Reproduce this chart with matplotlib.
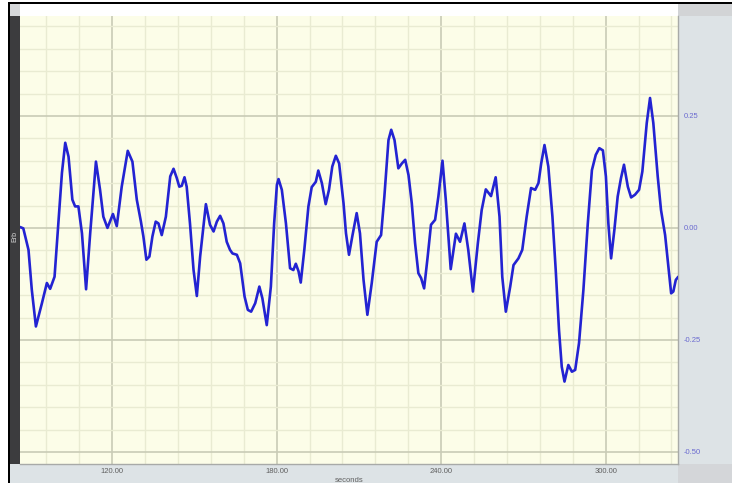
import numpy as np
import matplotlib
matplotlib.use("Agg")
import matplotlib.pyplot as plt
from matplotlib.patches import Rectangle
from matplotlib.ticker import MultipleLocator

# trace samples (time in seconds, signal value)
t = [86.4, 87.6, 89.5, 90.7, 92.2, 94.4, 96.2, 97.4, 99.0, 100.4, 101.7, 102.9,
     104.1, 105.5, 106.5, 107.7, 109.0, 110.5, 112.0, 114.1, 115.6, 116.8, 118.3,
     120.3, 121.7, 123.5, 125.7, 127.4, 129.0, 130.5, 131.4, 132.5, 133.6, 134.7,
     135.9, 136.9, 138.1, 139.6, 141.2, 142.4, 143.6, 144.5, 145.4, 146.4, 147.2,
     148.4, 149.7, 150.9, 152.1, 154.2, 155.7, 157.0, 158.2, 159.4, 160.6, 161.8,
     163.0, 163.9, 165.5, 166.7, 168.3, 169.5, 170.7, 172.2, 173.7, 174.8, 176.4,
     177.9, 179.1, 180.1, 180.7, 181.9, 183.4, 184.9, 186.1, 187.0, 188.0, 188.8,
     190.1, 191.6, 192.8, 194.3, 195.2, 196.5, 197.9, 199.1, 200.3, 201.6, 202.8,
     204.4, 205.3, 206.4, 207.6, 209.2, 210.4, 211.7, 213.1, 214.7, 216.5, 218.1,
     219.3, 220.8, 221.8, 223.0, 224.4, 225.7, 226.9, 228.1, 229.3, 230.5, 231.7,
     232.7, 233.8, 235.1, 236.3, 237.8, 239.0, 240.5, 241.7, 243.5, 245.4, 246.9,
     248.5, 249.9, 251.6, 253.4, 254.8, 256.3, 258.2, 259.9, 261.3, 262.3, 263.6,
     265.2, 266.4, 268.2, 269.6, 271.2, 272.8, 274.3, 275.5, 276.5, 277.7, 279.1,
     280.6, 281.8, 283.0, 284.0, 285.0, 286.4, 287.7, 288.9, 290.3, 291.9, 293.5,
     295.0, 296.4, 297.7, 299.0, 300.1, 301.0, 302.0, 303.2, 304.4, 305.6, 306.7,
     308.1, 309.3, 310.7, 312.2, 313.4, 315.0, 316.2, 317.4, 319.0, 320.2, 321.7,
     322.9, 323.9, 324.7, 325.6, 326.5]
v = [0.002, -0.001, -0.049, -0.138, -0.220, -0.168, -0.123, -0.136, -0.109, 0.011,
     0.123, 0.190, 0.159, 0.063, 0.048, 0.048, -0.012, -0.137, -0.012, 0.148,
     0.085, 0.025, 0.000, 0.031, 0.004, 0.092, 0.172, 0.148, 0.063, 0.014, -0.019,
     -0.071, -0.064, -0.019, 0.014, 0.010, -0.016, 0.025, 0.115, 0.132, 0.111,
     0.092, 0.094, 0.113, 0.092, 0.010, -0.094, -0.152, -0.064, 0.053, 0.007,
     -0.008, 0.014, 0.027, 0.010, -0.031, -0.049, -0.057, -0.060, -0.079, -0.153,
     -0.183, -0.187, -0.168, -0.131, -0.157, -0.217, -0.131, 0.010, 0.096, 0.109,
     0.085, 0.010, -0.090, -0.094, -0.080, -0.097, -0.122, -0.049, 0.048, 0.091,
     0.103, 0.128, 0.100, 0.053, 0.085, 0.137, 0.161, 0.144, 0.055, -0.012,
     -0.060, -0.019, 0.033, -0.012, -0.116, -0.194, -0.123, -0.031, -0.016,
     0.070, 0.196, 0.219, 0.196, 0.133, 0.144, 0.152, 0.118, 0.055, -0.034,
     -0.101, -0.112, -0.135, -0.064, 0.007, 0.018, 0.070, 0.150, 0.063, -0.092,
     -0.013, -0.031, 0.010, -0.049, -0.142, -0.034, 0.040, 0.086, 0.071, 0.113,
     0.025, -0.109, -0.187, -0.131, -0.083, -0.068, -0.049, 0.025, 0.089, 0.085,
     0.100, 0.144, 0.185, 0.137, 0.025, -0.094, -0.228, -0.310, -0.343, -0.306,
     -0.321, -0.317, -0.257, -0.138, 0.010, 0.129, 0.163, 0.178, 0.173, 0.115,
     0.010, -0.068, -0.004, 0.070, 0.111, 0.141, 0.092, 0.068, 0.074, 0.085,
     0.126, 0.234, 0.290, 0.234, 0.115, 0.040, -0.016, -0.086, -0.146, -0.142,
     -0.116, -0.109]

xticks = [120, 180, 240, 300]
yticks = [0.25, 0.0, -0.25, -0.5]

W, H = 732, 483
fig = plt.figure(figsize=(W / 100, H / 100), dpi=100)
fig.patch.set_facecolor("white")


def px_rect(x0, y0, x1, y1, color):
    # rectangle given in pixel coords measured from the top-left corner
    fig.add_artist(Rectangle((x0 / W, 1 - y1 / H), (x1 - x0) / W, (y1 - y0) / H,
                             transform=fig.transFigure, facecolor=color,
                             edgecolor="none", zorder=0))


panel = "#dde3e6"
px_rect(8, 2, W, 4.5, "black")          # top frame line
px_rect(8, 2, 10, H, "black")           # left frame line
px_rect(10, 4.5, 20, 16, "#d6d8da")
px_rect(20, 4.5, 678, 16, "white")
px_rect(678, 4.5, W, 16, "#d2d4d6")
px_rect(10, 16, 20, 464, "#3c3c3e")     # left label strip
px_rect(678, 16, W, 464, panel)         # right value panel
px_rect(10, 464, 678, H, panel)         # bottom time strip
px_rect(678, 464, W, H, "#d4d6d9")

ax = fig.add_axes([20 / W, 1 - 464 / H, 658 / W, 448 / H])
ax.set_facecolor("#fcfde8")
ax.plot(t, v, color="#2323d2", lw=1.9, solid_joinstyle="round",
        solid_capstyle="round", zorder=3)

ax.set_xlim(86.4, 326.4)
ax.set_ylim(-0.527, 0.473)
ax.xaxis.set_major_locator(plt.FixedLocator(xticks))
ax.xaxis.set_minor_locator(MultipleLocator(12))
ax.yaxis.set_major_locator(plt.FixedLocator(yticks))
ax.yaxis.set_minor_locator(MultipleLocator(0.05))
ax.grid(which="minor", color="#e9ebd2", lw=1.0, zorder=1)
ax.grid(which="major", color="#c9cbb6", lw=1.2, zorder=2)
ax.set_axisbelow(True)

ax.set_xticklabels([f"{x:.2f}" for x in xticks], fontsize=5.5,
                   color="#606060", family="Liberation Sans")
ax.set_yticklabels([f"{y:.2f}" for y in yticks], fontsize=5.5,
                   color="#6a6ad0", family="Liberation Sans")
ax.yaxis.tick_right()
ax.tick_params(which="both", length=0)
ax.tick_params(axis="x", pad=3)
ax.tick_params(axis="y", pad=4)
ax.set_xlabel("seconds", fontsize=5.5, color="#606060",
              family="Liberation Sans", labelpad=1)

for side in ["top", "left"]:
    ax.spines[side].set_visible(False)
for side in ["bottom", "right"]:
    ax.spines[side].set_color("#a8aaa8")
    ax.spines[side].set_linewidth(1.0)

fig.text(15 / W, 1 - 237 / H, "Erb", rotation=90, fontsize=5,
         color="#d8d8d8", ha="center", va="center", family="Liberation Sans")

fig.savefig("out.png", dpi=100)
